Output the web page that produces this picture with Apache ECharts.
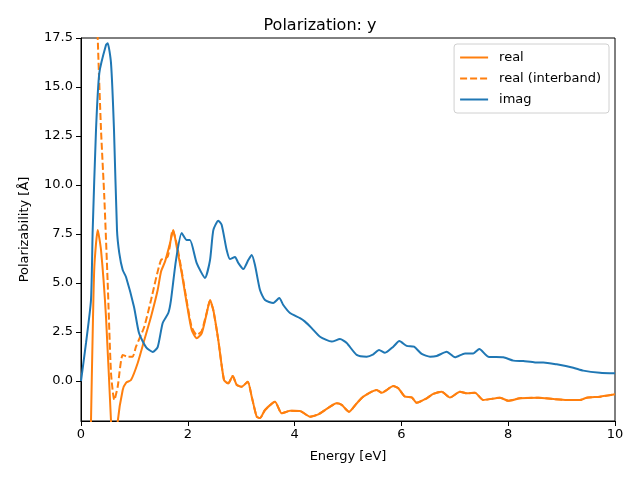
<!DOCTYPE html>
<html>
<head>
<meta charset="utf-8">
<script src="https://cdn.jsdelivr.net/npm/echarts@6/dist/echarts.min.js"></script>
<style>html,body{margin:0;padding:0;background:#fff}#c{width:640px;height:480px}</style>
</head>
<body>
<div id="c"></div>
<script>
const imagE = [0,0.094,0.187,0.219,0.281,0.343,0.468,0.5,0.562,0.618,0.674,0.717,0.781,0.843,0.993,1.086,1.217,1.343,1.436,1.53,1.635,1.685,1.779,1.886,1.979,2.04,2.167,2.322,2.416,2.478,2.571,2.635,2.728,2.79,2.884,2.946,3.039,3.133,3.197,3.258,3.352,3.446,3.601,3.713,3.788,3.914,4.101,4.195,4.32,4.476,4.695,4.85,4.976,5.163,5.35,5.474,5.581,5.693,5.848,5.961,6.099,6.236,6.38,6.536,6.661,6.848,7.004,7.191,7.346,7.459,7.627,7.908,8.096,8.283,8.502,8.657,8.908,9.219,9.406,9.719,10];
const imagV = [0,1.94,4.13,7.7,12.81,15.71,17.14,17.23,16.22,12.81,7.7,6.53,5.66,5.31,3.78,2.45,1.73,1.48,1.73,2.96,3.47,4.13,6.17,7.55,7.19,7.19,6.02,5.26,6.17,7.7,8.18,7.96,6.68,6.22,6.33,6.02,5.71,6.17,6.43,5.92,4.64,4.13,3.98,4.23,3.88,3.47,3.21,3.03,2.7,2.26,2.01,2.14,1.94,1.33,1.24,1.36,1.58,1.44,1.75,2.04,1.79,1.75,1.38,1.24,1.28,1.49,1.21,1.41,1.41,1.63,1.24,1.21,1.04,1.02,0.95,0.95,0.85,0.68,0.53,0.42,0.39];

const realE = [0.17,0.187,0.219,0.25,0.313,0.375,0.468,0.562,0.62,0.687,0.781,0.843,0.936,1.062,1.185,1.311,1.436,1.498,1.573,1.667,1.728,1.792,1.886,1.979,2.073,2.167,2.26,2.354,2.416,2.478,2.571,2.678,2.758,2.841,2.916,3.009,3.122,3.197,3.29,3.352,3.446,3.633,3.758,3.914,4.101,4.288,4.444,4.569,4.788,4.882,5.019,5.163,5.287,5.537,5.631,5.848,5.942,6.067,6.193,6.287,6.474,6.597,6.755,6.91,7.097,7.223,7.378,7.534,7.846,8.002,8.221,8.564,8.845,9.095,9.345,9.47,9.719,10];
const realV = [-6,-2.08,2.45,5.83,7.7,6.68,3.27,-2.04,-5,-2.08,-0.46,-0.09,0.05,0.92,2.09,3.28,4.64,5.58,6.09,7.03,7.7,6.85,5.51,3.98,2.6,2.18,2.43,3.45,4.13,3.62,2.09,0.05,-0.12,0.26,-0.2,-0.29,-0.04,-0.8,-1.82,-1.89,-1.48,-1.06,-1.65,-1.52,-1.53,-1.82,-1.7,-1.48,-1.14,-1.22,-1.57,-1.14,-0.8,-0.46,-0.6,-0.26,-0.37,-0.8,-0.83,-1.11,-0.88,-0.66,-0.55,-0.84,-0.55,-0.63,-0.6,-0.97,-0.85,-1.01,-0.88,-0.85,-0.92,-0.97,-0.97,-0.85,-0.8,-0.68];

const interE = [0.2,0.313,0.375,0.436,0.5,0.562,0.624,0.687,0.781,0.875,0.966,1.03,1.185,1.311,1.498,1.624,1.717,1.792,1.886,1.979,2.073,2.167,2.26,2.354,2.416,2.478,2.571,2.678,2.758,2.841,2.916,3.009,3.122,3.197,3.29,3.352,3.446,3.633,3.758,3.914,4.101,4.288,4.444,4.569,4.788,4.882,5.019,5.163,5.287,5.537,5.631,5.848,5.942,6.067,6.193,6.287,6.474,6.597,6.755,6.91,7.097,7.223,7.378,7.534,7.846,8.002,8.221,8.564,8.845,9.095,9.345,9.47,9.719,10];
const interV = [30,17.57,12.8,9.4,5.0,0.41,-0.97,-0.29,1.33,1.24,1.24,1.75,2.77,4.13,6.17,6.34,7.7,7.0,5.6,4.1,2.75,2.35,2.55,3.5,4.1,3.6,2.09,0.05,-0.12,0.26,-0.2,-0.29,-0.04,-0.8,-1.82,-1.89,-1.48,-1.06,-1.65,-1.52,-1.53,-1.82,-1.7,-1.48,-1.14,-1.22,-1.57,-1.14,-0.8,-0.46,-0.6,-0.26,-0.37,-0.8,-0.83,-1.11,-0.88,-0.66,-0.55,-0.84,-0.55,-0.63,-0.6,-0.97,-0.85,-1.01,-0.88,-0.85,-0.92,-0.97,-0.97,-0.85,-0.8,-0.68];

const yTicks = [0,2.5,5,7.5,10,12.5,15,17.5];
const xTicks = [0,2,4,6,8,10];
const titleText = 'Polarization: y';
const xName = 'Energy [eV]';
const yName = 'Polarizability [Å]';
const names = ['real','real (interband)','imag'];

function pairs(xs, ys){ return xs.map((x,i)=>[x, ys[i]]); }

const FONT = 'DejaVu Sans';
const chart = echarts.init(document.getElementById('c'), null, {renderer:'canvas'});
chart.setOption({
  animation:false,
  backgroundColor:'#fff',
  textStyle:{fontFamily:FONT},
  title:{text:titleText,left:'center',top:13,textStyle:{fontFamily:FONT,fontSize:16,fontWeight:'normal',color:'#000'}},
  grid:{left:81,right:25,top:38,bottom:59,show:true,borderColor:'#000',borderWidth:1,backgroundColor:'transparent'},
  legend:{
    orient:'vertical',right:31,top:44,
    data:names,
    itemWidth:28,itemHeight:12,itemGap:8,
    itemStyle:{opacity:0},
    backgroundColor:'#fff',borderColor:'#d0d0d0',borderWidth:1,borderRadius:3,
    padding:[7,8,7,5],
    textStyle:{fontFamily:FONT,fontSize:13,color:'#000',padding:[0,0,0,6]}
  },
  xAxis:{
    type:'value',min:0,max:10,interval:2,
    name:xName,nameLocation:'middle',nameGap:29,
    nameTextStyle:{fontFamily:FONT,fontSize:13,color:'#000'},
    axisLine:{show:true,onZero:false,lineStyle:{color:'#000',width:1}},
    axisTick:{show:true,length:5,lineStyle:{color:'#000'}},
    axisLabel:{color:'#000',fontSize:13,fontFamily:FONT,margin:7,formatter:v=>String(v)},
    splitLine:{show:false}
  },
  yAxis:{
    type:'value',min:-2.04,max:17.5,
    name:yName,nameLocation:'middle',nameGap:50,
    nameTextStyle:{fontFamily:FONT,fontSize:13,color:'#000'},
    axisLine:{show:true,onZero:false,lineStyle:{color:'#000',width:1}},
    axisTick:{show:true,length:5,lineStyle:{color:'#000'},customValues:yTicks},
    axisLabel:{color:'#000',fontSize:13,fontFamily:FONT,margin:8,customValues:yTicks,formatter:v=>v.toFixed(1)},
    splitLine:{show:false}
  },
  series:[
    {name:names[0],type:'line',data:pairs(realE,realV),symbol:'none',smooth:0.2,clip:true,
     lineStyle:{color:'#ff7f0e',width:2},itemStyle:{color:'#ff7f0e'},z:3},
    {name:names[1],type:'line',data:pairs(interE,interV),symbol:'none',smooth:0.2,clip:true,
     lineStyle:{color:'#ff7f0e',width:2,type:[7,3]},itemStyle:{color:'#ff7f0e'},z:2},
    {name:names[2],type:'line',data:pairs(imagE,imagV),symbol:'none',smooth:0.2,clip:true,
     lineStyle:{color:'#1f77b4',width:2},itemStyle:{color:'#1f77b4'},z:4}
  ]
});
</script>
</body>
</html>
